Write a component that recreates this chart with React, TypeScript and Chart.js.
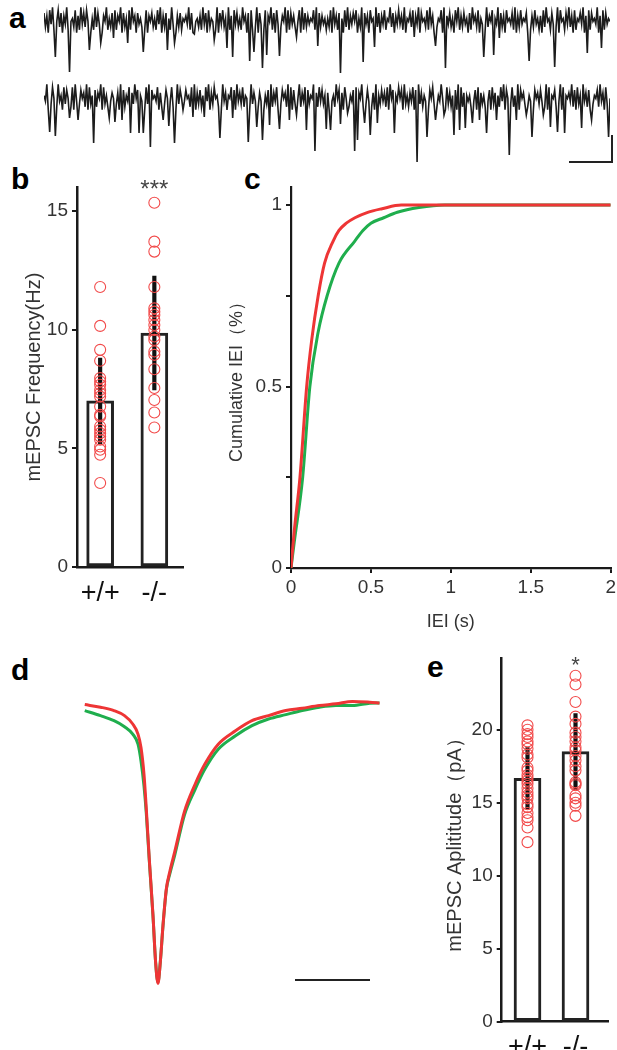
import React, { useEffect, useRef } from 'react';
import { Chart, registerables } from 'chart.js';

Chart.register(...registerables);
Chart.defaults.font.family = "'Liberation Sans', Arial, Helvetica, sans-serif";

// ---------- Panel a: example recordings (hand-read noise band + events) ----------
const TRACE_WT_NOISE = [
  '72608391548270639174528061937284605192738064915273',
  '81649072538194607352918064725183906274519380627154',
  '63917084526193708254619073825491608372519460738152',
  '90735182649170835264908173625480917263548190726351',
  '52809361745082916374805291736084519270638154927063',
  '83619054728163907452819360725480916372508491627350',
  '71946280537192648053917260845371906283547091628351',
  '60829451736290845173926081547390628174539062817354',
].join('');
const TRACE_WT_EVENTS: [number, number][] = [
  [8, -37], [18, -52], [32, -30], [40, -23], [49, -18], [59, -23], [70, -32], [87, -30],
  [92, -23], [106, -14], [120, -20], [129, -28], [133, -37], [145, -41], [148, -32], [154, -48],
  [157, -35], [166, -36], [178, -17], [193, -26], [209, -53], [225, -42], [233, -27], [261, -17],
  [276, -26], [283, -48], [310, -37], [317, -35], [321, -18], [342, -41], [360, -47], [383, -33],
  [393, -28],
];
const TRACE_KO_NOISE = [
  '53907284619350827461809352746190825371649082517364',
  '82609471538062947153608291745380619274538160927453',
  '74518390627154839062845170936254817093628154709263',
  '91638052749163805274619380725491638072549061837254',
  '60835194726084915372806491527381609452736180947253',
  '84709251638074926153907482615394708261537094816253',
  '51937084625193708264518390746281539074629153807462',
  '73619082547163908254639170825493617082547193608254',
].join('');
const TRACE_KO_EVENTS: [number, number][] = [
  [4, -35], [8, -39], [18, -21], [24, -23], [35, -46], [46, -21], [50, -25], [55, -23],
  [61, -36], [67, -36], [70, -36], [75, -50], [84, -23], [88, -29], [92, -46], [98, -13],
  [105, -20], [113, -20], [124, -41], [129, -13], [133, -21], [144, -45], [150, -30], [154, -43],
  [159, -28], [166, -32], [173, -23], [178, -18], [185, -33], [191, -54], [199, -32], [202, -33],
  [209, -27], [214, -16], [219, -54], [221, -43], [226, -26], [230, -38], [235, -26], [247, -36],
  [263, -65], [270, -40], [276, -23], [282, -18], [289, -38], [293, -33], [297, -31], [302, -26],
  [307, -23], [312, -36], [319, -23], [328, -58], [333, -23], [340, -18], [344, -40], [352, -18],
  [357, -30], [362, -35], [367, -36], [379, -31], [386, -23], [398, -40],
];
const NOISE_STEP_PA = 2.8;

// ---------- Panel b: mEPSC frequency ----------
const GENOTYPES = ['+/+', '-/-'];
const FREQ_MEAN = [7.0, 9.86];
const FREQ_ERR = [1.8, 2.4];
const FREQ_WT = [11.8, 10.16, 9.15, 8.69, 7.96, 7.82, 7.68, 7.46, 7.32, 7.18, 6.76, 6.41, 6.34, 5.92, 5.78, 5.64, 5.5, 5.36, 5.08, 4.94, 4.73, 3.54];
const FREQ_KO = [15.35, 13.71, 13.29, 11.8, 10.9, 10.76, 10.62, 10.41, 10.2, 9.99, 9.71, 9.57, 9.08, 8.94, 8.33, 7.54, 7.04, 6.51, 5.88];
const FREQ_SIG = ['', '***'];

// ---------- Panel c: cumulative IEI ----------
const IEI_KO = [0, 0.02, 0.056, 0.098, 0.13, 0.17, 0.21, 0.263, 0.3, 0.346, 0.4, 0.48, 0.57, 0.69, 2];
const CUM_KO = [0, 0.1, 0.25, 0.5, 0.63, 0.75, 0.84, 0.9, 0.93, 0.95, 0.965, 0.98, 0.99, 1, 1];
const IEI_WT = [0, 0.02, 0.073, 0.118, 0.17, 0.226, 0.3, 0.398, 0.45, 0.5, 0.58, 0.665, 0.8, 0.96, 2];
const CUM_WT = [0, 0.07, 0.25, 0.5, 0.65, 0.75, 0.84, 0.9, 0.93, 0.95, 0.965, 0.98, 0.993, 1, 1];

// ---------- Panel d: averaged mEPSC ----------
const AVG_T = [0.1, 2.2, 4.0, 5.4, 6.5, 7.2, 7.6, 8.0, 8.3, 8.7, 9.2, 9.55, 9.86, 10.17, 10.53, 10.98, 11.43, 12.1, 13.4, 14.8, 16.1, 17.9, 20.2, 22.4, 24.6, 26.9, 29.1, 31.4, 33.6, 35.8, 38.1, 39.4];
const AVG_KO = [-0.18, -0.37, -0.61, -0.97, -1.57, -2.29, -3.25, -5.17, -7.57, -11.17, -15.25, -18.61, -20.1, -18.61, -15.97, -13.34, -12.14, -10.69, -7.81, -5.89, -4.45, -3.01, -2.05, -1.33, -0.97, -0.61, -0.44, -0.25, -0.13, 0.04, -0.01, -0.06];
const AVG_WT = [-0.61, -0.97, -1.33, -1.76, -2.29, -3.01, -4.21, -6.0, -7.9, -11.3, -15.3, -18.6, -20.0, -18.6, -16.0, -13.4, -12.3, -10.93, -8.05, -6.25, -4.81, -3.37, -2.41, -1.69, -1.21, -0.9, -0.61, -0.37, -0.25, -0.25, -0.08, -0.06];

// ---------- Panel e: mEPSC amplitude ----------
const AMP_MEAN = [16.67, 18.5];
const AMP_ERR = [2.1, 2.6];
const AMP_WT = [20.3, 20.0, 19.7, 19.5, 19.2, 19.0, 18.7, 18.3, 18.1, 17.4, 17.2, 16.9, 16.7, 16.5, 16.3, 16.0, 15.7, 15.5, 15.3, 14.9, 14.7, 14.3, 14.0, 13.8, 13.3, 12.3];
const AMP_KO = [23.7, 23.1, 21.9, 20.9, 20.4, 19.8, 19.5, 19.2, 18.8, 18.6, 18.2, 17.9, 17.5, 17.2, 16.4, 16.3, 16.2, 15.5, 15.3, 15.0, 14.8, 14.1];
const AMP_SIG = ['', '*'];

const INK = '#1a1a1a';
const LABEL = '#333333';
const RED = '#ee3535';
const GREEN = '#1fae4d';
const DOT = '#f24a4a';

function tracePoints(noise: string, events: [number, number][]) {
  const pts = noise.split('').map((c, i) => ({ x: i, y: (Number(c) - 4.5) * NOISE_STEP_PA }));
  events.forEach(([i, v]) => { pts[i] = { x: i, y: v }; });
  return pts;
}

const sigPlugin = {
  id: 'sig',
  afterDatasetsDraw(chart: any, _args: any, opts: any) {
    if (!opts || !opts.labels) return;
    const { ctx, chartArea, scales } = chart;
    ctx.save();
    ctx.fillStyle = '#444';
    ctx.font = `${opts.size}px 'Liberation Sans', Arial, sans-serif`;
    ctx.textAlign = 'center';
    ctx.textBaseline = 'alphabetic';
    opts.labels.forEach((t: string, i: number) => {
      if (!t) return;
      ctx.fillText(t, scales.x.getPixelForValue(i), chartArea.top + opts.dy);
    });
    ctx.restore();
  },
};

function CanvasChart({ left, top, width, height, make }: any) {
  const ref = useRef<HTMLCanvasElement>(null);
  useEffect(() => {
    const chart = new Chart(ref.current as HTMLCanvasElement, make());
    return () => chart.destroy();
  }, []);
  return (
    <canvas
      ref={ref}
      width={width}
      height={height}
      style={{ position: 'absolute', left, top, width, height }}
    />
  );
}

function traceConfig(noise: string, events: [number, number][], yMin: number, yMax: number) {
  return () => ({
    type: 'line',
    data: {
      datasets: [{
        data: tracePoints(noise, events),
        borderColor: '#1c1c1c',
        borderWidth: 1.6,
        pointRadius: 0,
        tension: 0,
      }],
    },
    options: {
      responsive: false,
      animation: false,
      layout: { padding: 0 },
      plugins: { legend: { display: false }, tooltip: { enabled: false } },
      scales: {
        x: { type: 'linear', min: 0, max: 399, display: false },
        y: { min: yMin, max: yMax, display: false },
      },
    },
  });
}

function dotBarConfig(p: any) {
  return () => ({
    type: 'bar',
    plugins: [sigPlugin],
    data: {
      datasets: [
        {
          type: 'scatter',
          data: [
            ...p.wt.map((v: number) => ({ x: 0, y: v })),
            ...p.ko.map((v: number) => ({ x: 1, y: v })),
          ],
          pointRadius: 5.5,
          pointBorderWidth: 1.1,
          borderColor: DOT,
          backgroundColor: 'rgba(0,0,0,0)',
          order: 0,
        },
        {
          type: 'bar',
          data: p.mean.map((m: number, i: number) => ({ x: i, y: [m - p.err[i], m + p.err[i]] })),
          backgroundColor: '#111',
          borderWidth: 0,
          barThickness: 3.5,
          grouped: false,
          order: 1,
        },
        {
          type: 'bar',
          data: p.mean.map((m: number, i: number) => ({ x: i, y: m })),
          backgroundColor: '#ffffff',
          borderColor: '#222',
          borderWidth: 3,
          borderSkipped: false,
          barThickness: 27,
          grouped: false,
          order: 2,
        },
      ],
    },
    options: {
      responsive: false,
      animation: false,
      layout: { padding: { top: p.padTop, right: p.padRight, left: 0, bottom: 0 } },
      plugins: {
        legend: { display: false },
        tooltip: { enabled: false },
        sig: { labels: p.sig, size: p.sigSize, dy: p.sigDy },
      },
      scales: {
        x: {
          type: 'linear',
          min: p.xMin,
          max: p.xMax,
          offset: false,
          grid: { display: false },
          border: { display: true, color: INK, width: 2.5 },
          afterBuildTicks: (s: any) => { s.ticks = [{ value: 0 }, { value: 1 }]; },
          afterFit: (s: any) => { s.height = p.xAxisH; },
          ticks: {
            callback: (v: number) => GENOTYPES[v],
            font: { size: 27 },
            color: '#111',
            padding: 2,
            autoSkip: false,
            maxRotation: 0,
          },
        },
        y: {
          min: 0,
          max: p.yMax,
          grid: { display: true, drawOnChartArea: false, drawTicks: true, tickLength: 5, color: INK, lineWidth: 2 },
          border: { display: true, color: INK, width: 2.5 },
          ticks: { stepSize: 5, includeBounds: false, font: { size: 19 }, color: LABEL, padding: 4 },
          title: { display: true, text: p.title, font: { size: 20 }, color: LABEL, padding: { top: p.titlePad, bottom: 0 } },
          afterFit: (s: any) => { s.width = p.yAxisW; },
        },
      },
    },
  });
}

const cdfConfig = () => ({
  type: 'line',
  data: {
    datasets: [
      {
        data: IEI_KO.map((x, i) => ({ x, y: CUM_KO[i] })),
        borderColor: RED,
        borderWidth: 3,
        pointRadius: 0,
        cubicInterpolationMode: 'monotone',
        order: 0,
      },
      {
        data: IEI_WT.map((x, i) => ({ x, y: CUM_WT[i] })),
        borderColor: GREEN,
        borderWidth: 3,
        pointRadius: 0,
        cubicInterpolationMode: 'monotone',
        order: 1,
      },
    ],
  },
  options: {
    responsive: false,
    animation: false,
    layout: { padding: { top: 16.9, right: 6.3, left: 0, bottom: 0 } },
    plugins: { legend: { display: false }, tooltip: { enabled: false } },
    scales: {
      x: {
        type: 'linear',
        min: 0,
        max: 2,
        grid: { display: true, drawOnChartArea: false, drawTicks: true, tickLength: 5, color: INK, lineWidth: 2 },
        border: { display: true, color: INK, width: 2.2 },
        ticks: { stepSize: 0.5, font: { size: 19 }, color: LABEL, padding: 3, maxRotation: 0, callback: (v: number) => String(v) },
        title: { display: true, text: 'IEI (s)', font: { size: 18 }, color: LABEL, padding: { top: 0, bottom: 2 } },
        afterFit: (s: any) => { s.height = 67; },
      },
      y: {
        min: 0,
        max: 1.05,
        grid: { display: true, drawOnChartArea: false, drawTicks: true, tickLength: 5, color: INK, lineWidth: 2 },
        border: { display: true, color: INK, width: 2.2 },
        ticks: {
          stepSize: 0.25,
          includeBounds: false,
          font: { size: 19 },
          color: LABEL,
          padding: 4,
          callback: (v: number) => (v === 0 || v === 0.5 || v === 1 ? String(v) : ''),
        },
        title: { display: true, text: 'Cumulative IEI（%）', font: { size: 18 }, color: LABEL, padding: { top: 11, bottom: 0 } },
        afterFit: (s: any) => { s.width = 76; },
      },
    },
  },
});

const avgConfig = () => ({
  type: 'line',
  data: {
    datasets: [
      {
        data: AVG_T.map((x, i) => ({ x, y: AVG_KO[i] })),
        borderColor: RED,
        borderWidth: 3,
        pointRadius: 0,
        cubicInterpolationMode: 'monotone',
        order: 0,
      },
      {
        data: AVG_T.map((x, i) => ({ x, y: AVG_WT[i] })),
        borderColor: GREEN,
        borderWidth: 3,
        pointRadius: 0,
        cubicInterpolationMode: 'monotone',
        order: 1,
      },
    ],
  },
  options: {
    responsive: false,
    animation: false,
    layout: { padding: 0 },
    plugins: { legend: { display: false }, tooltip: { enabled: false } },
    scales: {
      x: { type: 'linear', min: 0, max: 40, display: false },
      y: { min: -20.57, max: 0.86, display: false },
    },
  },
});

const panelLabel = (t: string, left: number, top: number) => (
  <div
    style={{
      position: 'absolute', left, top, fontFamily: "'Liberation Sans', Arial, sans-serif",
      fontWeight: 'bold', fontSize: 30, lineHeight: 1, color: '#000',
    }}
  >
    {t}
  </div>
);

export default function App() {
  return (
    <div style={{ position: 'absolute', left: 0, top: 0, width: 617, height: 1050, overflow: 'hidden', background: '#fff' }}>
      {panelLabel('a', 9, 3)}
      {panelLabel('b', 11, 164)}
      {panelLabel('c', 244, 164)}
      {panelLabel('d', 11, 655)}
      {panelLabel('e', 427, 652)}

      <CanvasChart left={44} top={0} width={566} height={76} make={traceConfig(TRACE_WT_NOISE, TRACE_WT_EVENTS, -56, 20)} />
      <CanvasChart left={44} top={78} width={566} height={88} make={traceConfig(TRACE_KO_NOISE, TRACE_KO_EVENTS, -69, 19)} />
      <div style={{ position: 'absolute', left: 611, top: 135, width: 2, height: 28, background: '#222' }} />
      <div style={{ position: 'absolute', left: 569, top: 161, width: 44, height: 2, background: '#222' }} />

      <CanvasChart
        left={10}
        top={160}
        width={180}
        height={447}
        make={dotBarConfig({
          wt: FREQ_WT, ko: FREQ_KO, mean: FREQ_MEAN, err: FREQ_ERR, sig: FREQ_SIG,
          sigSize: 24, sigDy: 10, yMax: 16, xMin: -0.427, xMax: 1.536,
          padTop: 27.3, padRight: 5, xAxisH: 40, yAxisW: 67, titlePad: 12,
          title: 'mEPSC Frequency(Hz)',
        })}
      />

      <CanvasChart left={215} top={170} width={404} height={465} make={cdfConfig} />

      <CanvasChart left={84} top={690} width={300} height={300} make={avgConfig} />
      <div style={{ position: 'absolute', left: 295, top: 979, width: 75, height: 2, background: '#222' }} />

      <CanvasChart
        left={410}
        top={640}
        width={207}
        height={420}
        make={dotBarConfig({
          wt: AMP_WT, ko: AMP_KO, mean: AMP_MEAN, err: AMP_ERR, sig: AMP_SIG,
          sigSize: 22, sigDy: 14, yMax: 24.9, xMin: -0.5375, xMax: 1.677,
          padTop: 18.2, padRight: 9, xAxisH: 38.3, yAxisW: 91.7, titlePad: 33,
          title: 'mEPSC Aplititude（pA）',
        })}
      />
    </div>
  );
}
